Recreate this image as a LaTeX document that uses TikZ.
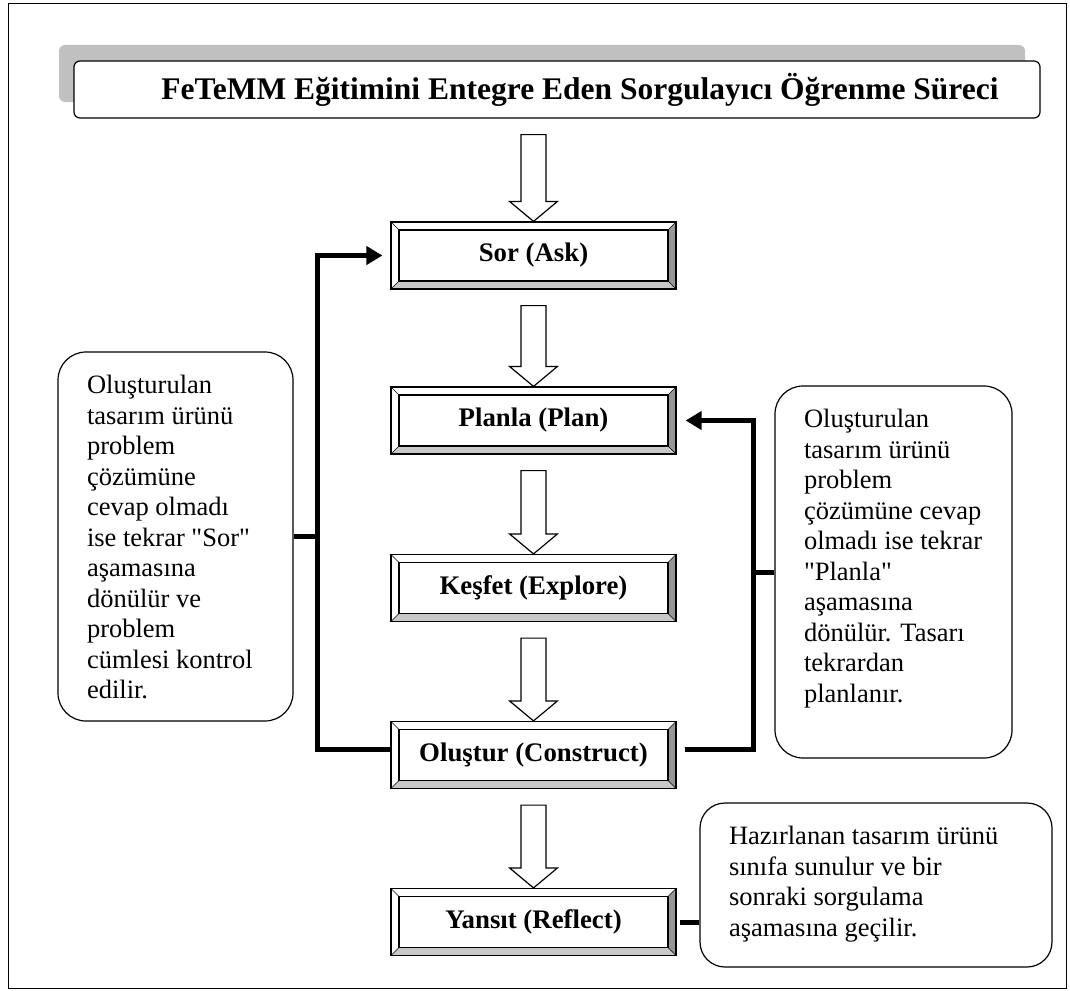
\documentclass[tikz,border=0pt]{standalone}
\usepackage{fontspec}
\newfontfamily\docfont{Liberation Serif}
\usetikzlibrary{positioning,calc,shadows,arrows.meta}
\definecolor{bevbot}{RGB}{200,200,200}
\definecolor{bevright}{RGB}{150,150,150}
\definecolor{shadegray}{RGB}{192,192,192}
% hollow block arrow between two stacked boxes
\newcommand\hollowdown[2]{%
  \draw[line width=1.2pt, fill=white, line join=miter]
    ($(#2.north |- #1.south)+(-12.5,-16)$) -- ($(#2.north |- #1.south)+(12.5,-16)$)
    -- ($(#2.north)+(12.5,20)$) -- ($(#2.north)+(24,20)$) -- (#2.north)
    -- ($(#2.north)+(-24,20)$) -- ($(#2.north)+(-12.5,20)$) -- cycle;}
\newcommand\notetext[3]{\parbox[c][#2][t]{#1}{\raggedright\rule{0pt}{41.5pt}#3}}

\begin{document}
\begin{tikzpicture}[x=1pt,y=1pt,
    titlebox/.style={draw, line width=1.2pt, fill=white, rounded corners=6pt,
      minimum width=966pt, minimum height=57pt, inner sep=0pt,
      font=\docfont\fontsize{31.5}{36}\selectfont\bfseries,
      drop shadow={shadow xshift=-15pt, shadow yshift=16pt, fill=shadegray, opacity=1}},
    stage/.style={draw, line width=1.2pt, fill=white, minimum width=285pt,
      minimum height=67pt, inner sep=0pt, font=\docfont\fontsize{26.8}{32}\selectfont\bfseries,
      path picture={
        \path (path picture bounding box.south west) coordinate (sw)
              (path picture bounding box.south east) coordinate (se)
              (path picture bounding box.north east) coordinate (ne)
              (path picture bounding box.north west) coordinate (nw);
        \fill[bevbot] (sw) -- (se) -- ++(-8,8) -- ($(sw)+(8,8)$) -- cycle;
        \fill[bevright] (se) -- (ne) -- ++(-8,-8) -- ($(se)+(-8,8)$) -- cycle;
        \draw[line width=1.2pt] ($(sw)+(8,8)$) rectangle ($(ne)+(-8,-8)$);
        \draw[line width=0.6pt] (sw) -- ++(8,8) (se) -- ++(-8,8)
              (ne) -- ++(-8,-8) (nw) -- ++(8,-8);
      }},
    note/.style={draw, line width=1.2pt, fill=white, rounded corners=28pt,
      inner xsep=29pt, inner ysep=0pt, font=\docfont\fontsize{26.5}{30.5}\selectfont},
    loopline/.style={line width=5pt},
    looparrow/.style={loopline, -{Triangle[length=16pt,width=18pt]}}]

  \useasboundingbox (0,0) rectangle (1070,-990);
  \draw[line width=0.8pt] (8,-3) rectangle (1066,-988);

  \node[titlebox] (title) at (557,-89.5) {\hspace*{46pt}FeTeMM Eğitimini Entegre Eden Sorgulayıcı Öğrenme Süreci};

  % stages
  \node[stage] (sor)     at (533.5,-255.5) {Sor (Ask)};
  \node[stage] (planla)  at (533.5,-420.5) {Planla (Plan)};
  \node[stage] (kesfet)  at (533.5,-588)   {Keşfet (Explore)};
  \node[stage] (olustur) at (533.5,-755)   {Oluştur (Construct)};
  \node[stage] (yansit)  at (533.5,-922)   {Yansıt (Reflect)};

  \foreach \a/\b in {title/sor, sor/planla, planla/kesfet, kesfet/olustur, olustur/yansit}
    \hollowdown{\a}{\b};

  % notes
  \node[note] (lnote) at (175.5,-536.5) {\notetext{177pt}{369pt}{Oluşturulan\\
    tasarım ürünü\\ problem\\ çözümüne\\ cevap olmadı\\ ise tekrar "Sor"\\
    aşamasına\\ dönülür ve\\ problem\\ cümlesi kontrol\\ edilir.}};
  \node[note] (rnote) at (893.5,-572) {\notetext{179pt}{372pt}{Oluşturulan\\
    tasarım ürünü\\ problem\\ çözümüne cevap\\ olmadı ise tekrar\\ "Planla"\\
    aşamasına\\ dönülür. Tasarı\\ tekrardan\\ planlanır.}};
  \node[note, rounded corners=25pt] (bnote) at (876,-885) {\notetext{294pt}{164pt}{Hazırlanan tasarım ürünü\\
    sınıfa sunulur ve bir\\ sonraki sorgulama\\ aşamasına geçilir.}};

  % feedback loops
  \coordinate (lcorner) at ([xshift=-73pt]sor.west);
  \coordinate (rcorner) at ([xshift=77pt]planla.east);
  \draw[looparrow] ([yshift=6pt]olustur.west) -| (lcorner) -- ([xshift=-8pt]sor.west);
  \draw[loopline] (lnote.east) -- (lnote.east -| lcorner);
  \draw[looparrow] ([xshift=8pt,yshift=6pt]olustur.east) -| (rcorner) -- ([xshift=9pt]planla.east);
  \draw[loopline] (rnote.west) -- (rnote.west -| rcorner);
  \draw[loopline] ([xshift=3pt]yansit.east) -- (bnote.west |- yansit.east);
\end{tikzpicture}
\end{document}
